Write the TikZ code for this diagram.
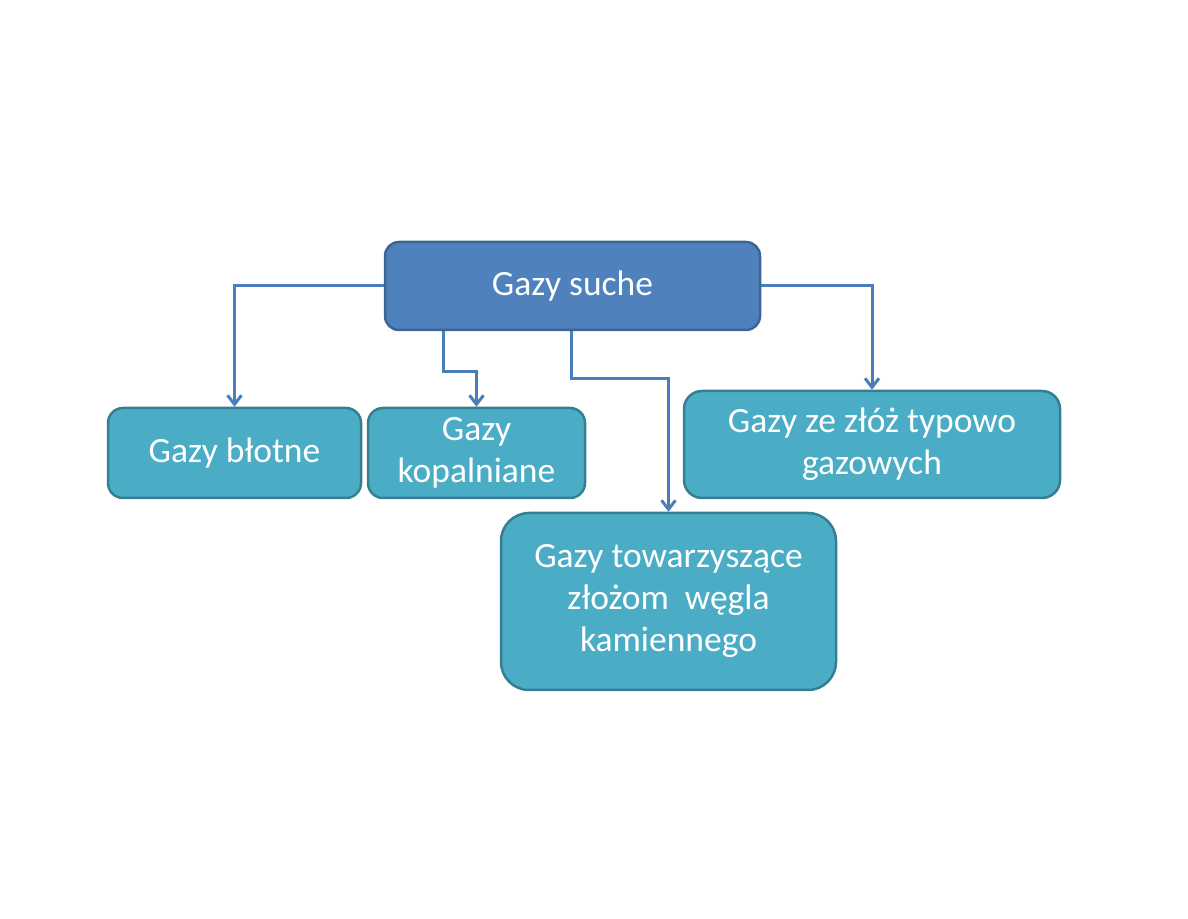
\documentclass[tikz,border=0pt]{standalone}
\usepackage{fontspec}
\setmainfont{Carlito}
\usetikzlibrary{arrows.meta}
\definecolor{rootblue}{HTML}{4F81BD}
\definecolor{rootedge}{HTML}{3A6595}
\definecolor{leafteal}{HTML}{4BACC6}
\definecolor{leafedge}{HTML}{357F93}
\definecolor{linkblue}{HTML}{4A7EBB}
\begin{document}
\begin{tikzpicture}[
    x=1pt, y=1pt,
    >={Straight Barb[length=9pt,width=14pt,line width=3pt]},
    every node/.style={draw, rectangle, line width=2.5pt, align=center, text=white, font=\fontsize{35.5}{42}\selectfont},
    rootbox/.style={fill=rootblue, draw=rootedge, rounded corners=14pt, minimum width=375pt, minimum height=88pt},
    leafbox/.style={fill=leafteal, draw=leafedge, rounded corners=15pt, minimum height=90pt},
    arrow/.style={->, line width=3pt, draw=linkblue}
]
  \useasboundingbox (0,0) rectangle (1188,918);

  \node[rootbox] (suche) at (572.5,632) {Gazy suche};
  \node[leafbox, minimum width=253pt] (blotne) at (234.5,465) {Gazy błotne};
  \node[leafbox, minimum width=217pt] (kopal) at (476.5,465) {Gazy\\kopalniane};
  \node[leafbox, minimum width=376pt, minimum height=107pt, rounded corners=18pt] (zloza) at (872,473.5) {Gazy ze złóż typowo\\gazowych};
  \node[leafbox, minimum width=335pt, minimum height=177pt, rounded corners=28pt] (towar) at (668.5,316.5) {Gazy towarzyszące\\złożom\ \ węgla\\kamiennego};

  \draw[arrow] (suche.west) -| (blotne.north);
  \draw[arrow] ([xshift=-129.5pt]suche.south) -- ++(0,-40) -| (kopal.north);
  \draw[arrow] ([xshift=-1pt]suche.south) -- ++(0,-47) -| (towar.north);
  \draw[arrow] (suche.east) -| (zloza.north);
\end{tikzpicture}
\end{document}
